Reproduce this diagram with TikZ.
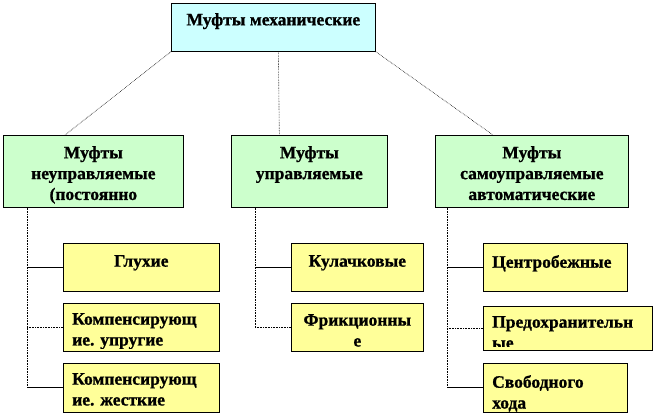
\documentclass[tikz,border=0pt]{standalone}
\usepackage{fontspec}
\setmainfont{Liberation Serif}[BoldFeatures={FakeBold=1}]
\usetikzlibrary{positioning}
\definecolor{topCyan}{RGB}{204,255,255}
\definecolor{midGreen}{RGB}{204,255,204}
\definecolor{leafYellow}{RGB}{255,255,153}

\begin{document}
\begin{tikzpicture}[x=1pt,y=1pt,
  box/.style={rectangle,draw=black,line width=0.7pt,inner sep=0pt,anchor=north west},
  txt/.style={font=\rmfamily\bfseries\fontsize{17.5}{20.8}\selectfont,inner sep=0pt,align=center},
  lnk/.style={line width=0.6pt,densely dotted},
  tie/.style={line width=0.7pt}
]
  \useasboundingbox (0,0) rectangle (654,-414);

  % top
  \node[box,fill=topCyan,minimum width=204,minimum height=48](mech) at (171,-3) {};
  \node[txt,anchor=north](mech-t) at ([yshift=-10]mech.north) {Муфты механические};

  % second level
  \node[box,fill=midGreen,minimum width=180,minimum height=72](fixd) at (3,-135) {};
  \node[box,fill=midGreen,minimum width=156,minimum height=72](ctrl) at (231,-135) {};
  \node[box,fill=midGreen,minimum width=193,minimum height=72](auto) at (435,-135) {};
  \node[txt,anchor=north](fixd-t) at ([yshift=-11]fixd.north) {Муфты\\неуправляемые\\(постоянно};
  \node[txt,anchor=north](ctrl-t) at ([yshift=-11]ctrl.north) {Муфты\\управляемые};
  \node[txt,anchor=north](auto-t) at ([yshift=-11]auto.north) {Муфты\\самоуправляемые\\автоматические};

  % leaves
  \node[box,fill=leafYellow,minimum width=156,minimum height=48](solid) at (63,-243) {};
  \node[box,fill=leafYellow,minimum width=156,minimum height=48](elastic) at (63,-303) {};
  \node[box,fill=leafYellow,minimum width=156,minimum height=49](rigid) at (63,-363) {};
  \node[box,fill=leafYellow,minimum width=132,minimum height=48](cam) at (291,-243) {};
  \node[box,fill=leafYellow,minimum width=132,minimum height=48](fric) at (291,-303) {};
  \node[box,fill=leafYellow,minimum width=144,minimum height=48](centr) at (483,-243) {};
  \node[box,fill=leafYellow,minimum width=169,minimum height=44](safety) at (483,-306) {};
  \node[box,fill=leafYellow,minimum width=144,minimum height=49](freewh) at (483,-363) {};

  \node[txt,anchor=north](solid-t) at ([yshift=-12]solid.north) {Глухие};
  \node[txt,anchor=north](cam-t) at ([yshift=-12]cam.north) {Кулачковые};
  \node[txt,anchor=north](fric-t) at ([yshift=-11]fric.north) {Фрикционны\\е};
  \node[txt,anchor=north west,align=left](centr-t) at ([xshift=9,yshift=-12]centr.north west) {Центробежные};
  \node[txt,anchor=north west,align=left](freewh-t) at ([xshift=9,yshift=-12]freewh.north west) {Свободного\\хода};
  \node[txt,anchor=north west,align=left](rigid-t) at ([xshift=9,yshift=-10]rigid.north west) {Компенсирующ\\ие. жесткие};
  % texts cut by their box
  \begin{scope}
    \clip ([yshift=3]elastic.south west) rectangle (elastic.north east);
    \node[txt,anchor=north west,align=left](elastic-t) at ([xshift=9,yshift=-10]elastic.north west) {Компенсирующ\\ие. упругие};
  \end{scope}
  \begin{scope}
    \clip ([yshift=4]safety.south west) rectangle (safety.north east);
    \node[txt,anchor=north west,align=left](safety-t) at ([xshift=9,yshift=-10]safety.north west) {Предохранительн\\ые};
  \end{scope}

  % top to second level
  \draw[lnk](mech.south west)--([xshift=62]fixd.north west);
  \draw[lnk]([xshift=5]mech.south)--([xshift=-30]ctrl.north);
  \draw[lnk](mech.south east)--([xshift=58]auto.north west);

  % trunks
  \coordinate (ltr) at ([xshift=24]fixd.south west);
  \coordinate (ctr) at ([xshift=24]ctrl.south west);
  \coordinate (rtr) at ([xshift=12]auto.south west);
  \draw[lnk](ltr)--(ltr |- rigid.west);
  \draw[lnk](ctr)--(ctr |- fric.west);
  \draw[lnk](rtr)--(rtr |- freewh.west);

  \draw[tie](ltr |- solid.west)--(solid.west);
  \draw[lnk](ltr |- elastic.west)--(elastic.west);
  \draw[tie](ltr |- rigid.west)--(rigid.west);
  \draw[tie](ctr |- cam.west)--(cam.west);
  \draw[lnk](ctr |- fric.west)--(fric.west);
  \draw[tie](rtr |- centr.west)--(centr.west);
  \draw[lnk](rtr |- safety.west)--(safety.west);
  \draw[tie](rtr |- freewh.west)--(freewh.west);
\end{tikzpicture}
\end{document}
